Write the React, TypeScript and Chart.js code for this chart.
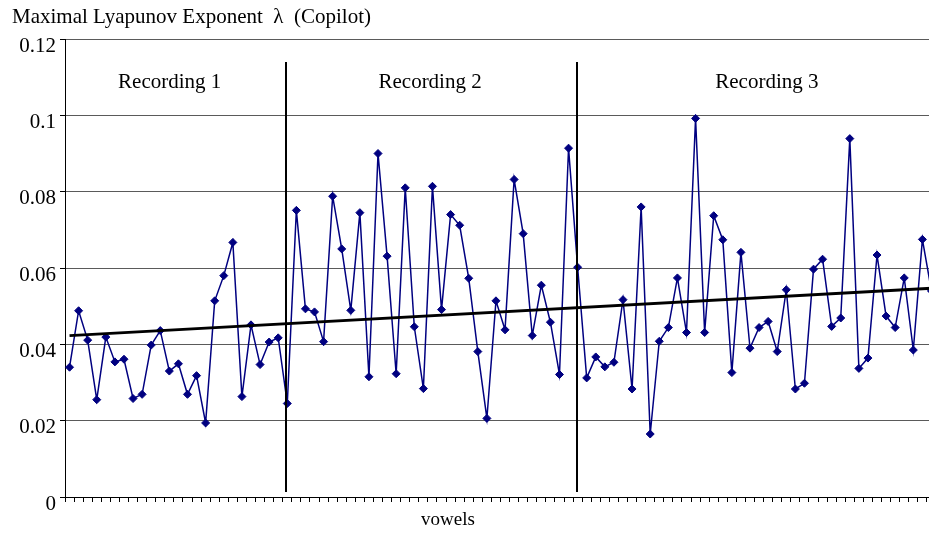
import { useEffect, useRef } from 'react';
import { Chart, registerables } from 'chart.js';

Chart.register(...registerables);

const chartTitle = 'Maximal Lyapunov Exponent  λ  (Copilot)';
const xAxisTitle = 'vowels';

const lyapunov = [
  0.0340, 0.0488, 0.0411, 0.0255, 0.0419, 0.0354, 0.0361, 0.0258, 0.0269, 0.0398,
  0.0436, 0.0330, 0.0349, 0.0269, 0.0318, 0.0194, 0.0514, 0.0580, 0.0667, 0.0263,
  0.0451, 0.0347, 0.0406, 0.0417, 0.0245, 0.0751, 0.0493, 0.0485, 0.0407, 0.0788,
  0.0650, 0.0489, 0.0745, 0.0315, 0.0900, 0.0631, 0.0323, 0.0810, 0.0446, 0.0284,
  0.0814, 0.0491, 0.0740, 0.0712, 0.0573, 0.0381, 0.0206, 0.0514, 0.0438, 0.0832,
  0.0690, 0.0423, 0.0555, 0.0458, 0.0321, 0.0914, 0.0602, 0.0312, 0.0367, 0.0341,
  0.0353, 0.0517, 0.0283, 0.0760, 0.0165, 0.0408, 0.0444, 0.0574, 0.0431, 0.0992,
  0.0431, 0.0737, 0.0674, 0.0326, 0.0641, 0.0390, 0.0444, 0.0460, 0.0381, 0.0543,
  0.0283, 0.0298, 0.0597, 0.0623, 0.0447, 0.0469, 0.0939, 0.0337, 0.0364, 0.0634,
  0.0474, 0.0444, 0.0574, 0.0385, 0.0675, 0.0540,
];

const vowels = lyapunov.map((_, i) => String(i + 1));

// linear trend: value at first and last vowel
const trendVowels = ['1', '96'];
const trendValues = [0.0423, 0.0547];

const yMin = 0;
const yMax = 0.12;
const yStep = 0.02;

const recordingNames = ['Recording 1', 'Recording 2', 'Recording 3'];
// positions in vowel-index units (0 = first vowel)
const recordingCenters = [11.04, 39.74, 76.86];
const recordingBoundaries = [23.88, 55.88];

const FONT = '"Liberation Serif", "Times New Roman", serif';

const annotations = {
  id: 'annotations',
  afterDraw(chart: any) {
    const ctx = chart.ctx;
    const { top, bottom } = chart.chartArea;
    const xs = chart.scales.x;
    ctx.save();
    ctx.fillStyle = '#000';
    ctx.textBaseline = 'alphabetic';
    ctx.font = `21px ${FONT}`;
    ctx.textAlign = 'left';
    ctx.fillText(chartTitle, 12, 23);

    ctx.strokeStyle = '#000';
    ctx.lineWidth = 2;
    recordingBoundaries.forEach((b) => {
      const px = Math.round(xs.getPixelForValue(b));
      ctx.beginPath();
      ctx.moveTo(px, top + 23);
      ctx.lineTo(px, bottom - 5);
      ctx.stroke();
    });

    ctx.textAlign = 'center';
    recordingNames.forEach((name, i) => {
      ctx.fillText(name, xs.getPixelForValue(recordingCenters[i]), top + 49);
    });

    ctx.font = `19px ${FONT}`;
    ctx.fillText(xAxisTitle, 448, 525);
    ctx.restore();
  },
};

export default function App() {
  const ref = useRef<HTMLCanvasElement>(null);

  useEffect(() => {
    document.documentElement.style.overflow = 'hidden';
    document.body.style.overflow = 'hidden';
    const canvas = ref.current;
    if (!canvas) return;
    const chart = new Chart(canvas, {
      type: 'line',
      data: {
        labels: vowels,
        datasets: [
          {
            label: 'trend',
            data: trendVowels.map((v, i) => ({ x: v, y: trendValues[i] })) as any,
            borderColor: '#000',
            borderWidth: 2.8,
            pointRadius: 0,
            fill: false,
            tension: 0,
          },
          {
            label: 'lambda',
            data: lyapunov,
            borderColor: '#000080',
            backgroundColor: '#000080',
            borderWidth: 1.5,
            pointStyle: 'rectRot',
            pointRadius: 4,
            pointBorderWidth: 1,
            pointBackgroundColor: '#000080',
            pointBorderColor: '#000080',
            fill: false,
            tension: 0,
          },
        ],
      },
      options: {
        animation: false,
        responsive: false,
        events: [],
        layout: { padding: { top: 39, left: 0, right: 3, bottom: 0 } },
        plugins: {
          legend: { display: false },
          tooltip: { enabled: false },
          title: { display: false },
        },
        scales: {
          x: {
            type: 'category',
            offset: true,
            grid: {
              display: true,
              drawOnChartArea: false,
              drawTicks: true,
              tickLength: 5,
              tickColor: '#000',
              offset: true,
            },
            border: { display: true, color: '#000', width: 1 },
            ticks: { display: false, autoSkip: false },
            afterFit: (s: any) => {
              s.height = 41;
            },
          },
          y: {
            min: yMin,
            max: yMax,
            ticks: {
              stepSize: yStep,
              color: '#000',
              padding: 4,
              labelOffset: 7,
              font: { family: FONT, size: 21 },
              callback: (v: any) => String(Number(Number(v).toFixed(2))),
            },
            grid: {
              color: '#5a5a5a',
              lineWidth: 1,
              drawTicks: true,
              tickLength: 5,
              tickColor: '#000',
            },
            border: { display: true, color: '#000', width: 1 },
            afterFit: (s: any) => {
              s.width = 65;
            },
          },
        },
      },
      plugins: [annotations],
    });
    return () => chart.destroy();
  }, []);

  return (
    <div style={{ position: 'absolute', left: 0, top: 0, width: 941, height: 538, background: '#fff' }}>
      <canvas ref={ref} width={941} height={538} />
    </div>
  );
}
